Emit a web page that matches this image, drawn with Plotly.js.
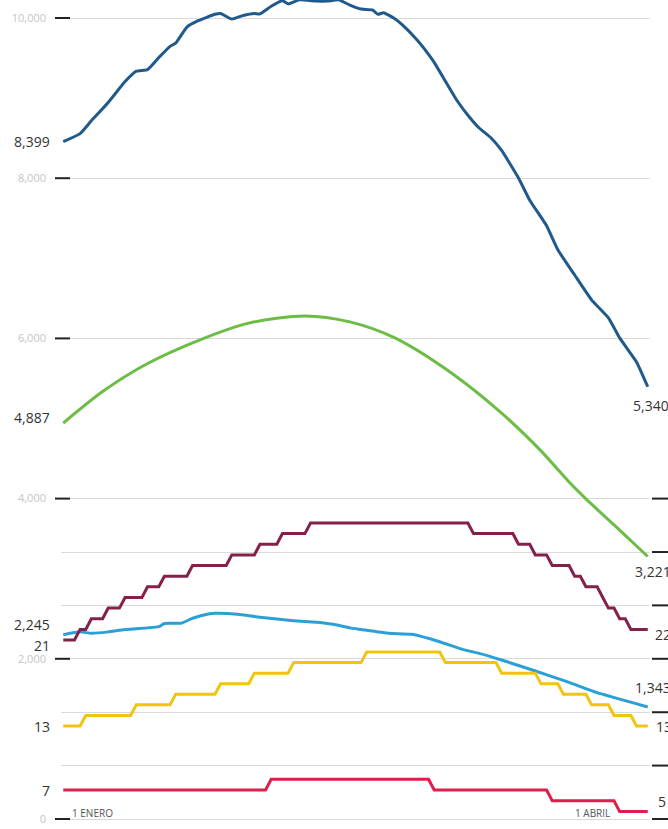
<!DOCTYPE html>
<html><head><meta charset="utf-8">
<script src="https://cdn.plot.ly/plotly-3.0.1.min.js"></script>
<style>html,body{margin:0;padding:0;background:#fff}#chart{width:668px;height:829px}</style>
</head><body><div id="chart"></div>
<script>
// ---- DATA (day 0 = 1 enero) ----
const blueDays   = [0,3,5,8,11,13,15,17,19,20,22,24,27,28,30,32,34,35,37,39,40,42,45,47,49,51,53,55,56,57,59,61,63,65,66,70,72,74,76,78,81,83,86,88,91,94,97,99,102,104];
const blueValues = [8399,8500,8660,8890,9150,9280,9300,9450,9590,9630,9830,9910,9990,10000,9930,9975,10000,9995,10090,10160,10120,10170,10155,10155,10170,10105,10055,10045,9990,10010,9935,9815,9665,9490,9390,8920,8730,8570,8455,8290,7945,7670,7350,7050,6735,6425,6200,5950,5650,5340];

const greenDays   = [0,7,15,25,33,43,51,59,69,78,85,90,93,99,104];
const greenValues = [4887,5280,5630,5945,6135,6225,6150,5950,5515,5010,4540,4150,3940,3550,3221];

const lightDays   = [0,3,5,8,11,15,17,18,21,23,26,27,31,35,41,46,48,51,53,58,62,67,71,74,78,84,90,95,104];
const lightValues = [2245,2280,2262,2280,2310,2330,2345,2385,2388,2450,2505,2512,2500,2462,2420,2395,2375,2330,2310,2262,2250,2157,2062,2012,1929,1792,1650,1521,1343];

const purpleValues = [
  21,21,21, 22,22, 23,23,23, 24,24,24, 25,25,25,25, 26,26,26, 27,27,27,27,27,
  28,28,28,28,28,28,28, 29,29,29,29,29, 30,30,30,30, 31,31,31,31,31,
  32,32,32,32,32,32,32,32,32,32, 32,32,32,32,32,32,32,32,32,32, 32,32,32,32,32,32,32,32,32,
  31,31,31,31,31,31,31,31, 30,30,30, 29,29,29, 28,28,28,28, 27,27, 26,26,26, 25, 24,24, 23,23, 22,22,22,22
];
const yellowValues = [
  13,13,13,13,
  14,14,14,14,14,14,14,14,14,
  15,15,15,15,15,15,15,
  16,16,16,16,16,16,16,16,
  17,17,17,17,17,17,
  18,18,18,18,18,18,18,
  19,19,19,19,19,19,19,19,19,19,19,19,19,
  20,20,20,20,20,20,20,20,20,20,20,20,20,20,
  19,19,19,19,19,19,19,19,19,19,
  18,18,18,18,18,18,18,
  17,17,17,17,
  16,16,16,16,16,
  15,15,15,15,
  14,14,14,14,
  13,13,13
];
const redValues = [
  7,7,7,7,7,7,7,7,7,7, 7,7,7,7,7,7,7,7,7,7, 7,7,7,7,7,7,7,7,7,7, 7,7,7,7,7,7,7,
  8,8,8,8,8,8,8,8,8,8, 8,8,8,8,8,8,8,8,8,8, 8,8,8,8,8,8,8,8,8,
  7,7,7,7,7,7,7,7,7,7, 7,7,7,7,7,7,7,7,7,7, 7,
  6,6,6,6,6,6,6,6,6,6,6,6,
  5,5,5,5,5,5
];

const leftTickVals  = [0, 667, 1333, 2000, 2667, 3333, 4000, 6000, 8000, 10000];
const leftTickText  = ['0', '', '', '2,000', '', '', '4,000', '6,000', '8,000', '10,000'];
const leftDashVals  = [0, 2000, 4000, 6000, 8000, 10000];
const rightDashVals = [0, 667, 1333, 2000, 2667, 3333, 4000];
const dateLabels = ['1 ENERO', '1 ABRIL'];
const dateDays   = [0, 90];

// ---- CHART ----
const stepDays = purpleValues.map((_, i) => i);
const fmt = n => n.toLocaleString('en-US');
const FONT = 'Open Sans, Noto Sans, sans-serif';

const C = {blue:'#1f5a8b', green:'#6cbd45', light:'#2ba0d6', purple:'#84204a', yellow:'#f1c40f', red:'#dd1f4d'};

const traces = [
  {x: stepDays, y: redValues, yaxis:'y5', mode:'lines', line:{color:C.red, width:3}},
  {x: stepDays, y: yellowValues, yaxis:'y4', mode:'lines', line:{color:C.yellow, width:3}},
  {x: lightDays, y: lightValues, yaxis:'y2', mode:'lines', line:{color:C.light, width:3, shape:'spline', smoothing:0.4}},
  {x: stepDays, y: purpleValues, yaxis:'y3', mode:'lines', line:{color:C.purple, width:3}},
  {x: greenDays, y: greenValues, yaxis:'y2', mode:'lines', line:{color:C.green, width:3, shape:'spline', smoothing:0.8}},
  {x: blueDays, y: blueValues, yaxis:'y2', mode:'lines', line:{color:C.blue, width:3, shape:'spline', smoothing:0.4}}
].map(t => Object.assign({hoverinfo:'skip', showlegend:false}, t));

const W = 589; // plot width px
const px = p => (p - 61) / W;

const shapes = [];
leftDashVals.forEach(v => shapes.push({type:'line', xref:'paper', yref:'y', x0:px(55), x1:px(70), y0:v, y1:v, line:{color:'#222', width:2}}));
rightDashVals.forEach(v => shapes.push({type:'line', xref:'paper', yref:'y', x0:px(652), x1:px(668), y0:v, y1:v, line:{color:'#222', width:2}}));

const ann = [];
function lab(text, yref, y, x, anchor, yshift) {
  ann.push({text, xref:'paper', yref, x:px(x), y, xanchor:anchor, yanchor:'middle', yshift, showarrow:false,
            font:{family:FONT, size:14, color:'#333'}});
}
const last = a => a[a.length - 1];
lab(fmt(blueValues[0]), 'y2', blueValues[0], 52, 'right', 0);
lab(fmt(greenValues[0]), 'y2', greenValues[0], 52, 'right', 6);
lab(fmt(lightValues[0]), 'y2', lightValues[0], 52, 'right', 10);
lab(String(purpleValues[0]), 'y3', purpleValues[0], 52, 'right', -5);
lab(String(yellowValues[0]), 'y4', yellowValues[0], 52, 'right', 0);
lab(String(redValues[0]), 'y5', redValues[0], 52, 'right', 0);
lab(fmt(last(blueValues)), 'y2', last(blueValues), 631, 'left', -19);
lab(fmt(last(greenValues)), 'y2', last(greenValues), 633, 'left', -15);
lab(String(last(purpleValues)), 'y3', last(purpleValues), 653, 'left', -5);
lab(fmt(last(lightValues)), 'y2', last(lightValues), 633, 'left', 19);
lab(String(last(yellowValues)), 'y4', last(yellowValues), 654, 'left', 0);
lab(String(last(redValues)), 'y5', last(redValues), 656, 'left', 10);

dateLabels.forEach((t, i) => ann.push({text:t, xref:'x', yref:'paper', x:dateDays[i], y:(829-813)/829,
  xanchor:'left', yanchor:'middle', xshift: i === 0 ? 7 : 4, showarrow:false,
  font:{family:FONT, size:10, color:'#555'}}));

const layout = {
  width: 668, height: 829,
  margin: {l:61, r:18, t:0, b:0},
  paper_bgcolor:'#fff', plot_bgcolor:'#fff',
  showlegend:false,
  font:{family:FONT},
  xaxis: {range:[-0.4, 104.4], showgrid:false, zeroline:false, showline:false, showticklabels:false, ticks:''},
  yaxis: {range:[-124.8, 10224.7], tickmode:'array', tickvals:leftTickVals, ticktext:leftTickText,
          showgrid:true, gridcolor:'#dadada', gridwidth:1, zeroline:false, showline:false, ticks:'',
          ticklabelstandoff:14, tickfont:{family:FONT, size:11, color:'#c4c4c4'}},
  yaxis2: {overlaying:'y', range:[-181, 10168.5], visible:false},
  yaxis3: {overlaying:'y', range:[3.24, 81.15], visible:false},
  yaxis4: {overlaying:'y', range:[3.255, 81.69], visible:false},
  yaxis5: {overlaying:'y', range:[3.39, 80.15], visible:false},
  shapes, annotations: ann
};

Plotly.newPlot('chart', traces, layout, {staticPlot:true, displayModeBar:false});
</script>
</body></html>
